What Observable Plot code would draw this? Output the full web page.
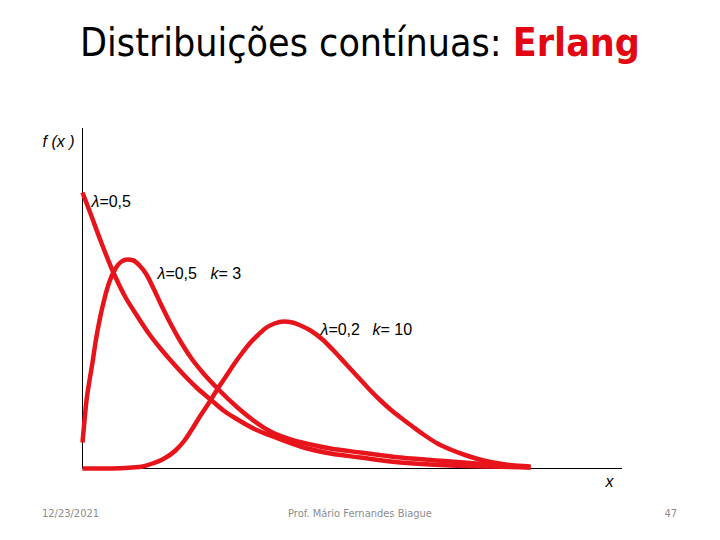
<!DOCTYPE html>
<html><head><meta charset="utf-8">
<script src="https://cdn.jsdelivr.net/npm/d3@7"></script>
<script src="https://cdn.jsdelivr.net/npm/@observablehq/plot@0.6"></script>
<style>
html,body{margin:0;padding:0;background:#fff;}
#page{position:relative;width:720px;height:540px;overflow:hidden;background:#fff;}
#title{position:absolute;left:0;top:20px;width:720px;text-align:center;font-family:"DejaVu Sans Condensed","DejaVu Sans",sans-serif;font-size:39px;color:#000;white-space:nowrap;}
#title b{color:#e30613;}
#chart{position:absolute;left:0;top:100px;}
.foot{position:absolute;top:507px;font-family:"Liberation Sans Narrow","DejaVu Sans Condensed",sans-serif;font-size:11px;color:#8c8c8c;white-space:nowrap;}
</style></head>
<body><div id="page">
<div id="title">Distribuições contínuas: <b>Erlang</b></div>
<div id="chart"></div>
<div class="foot" style="left:42px">12/23/2021</div>
<div class="foot" style="left:0;width:720px;text-align:center">Prof. Mário Fernandes Biague</div>
<div class="foot" style="right:43px">47</div>
</div>
<script>
// Series (arbitrary units)
const expX = [0, 0.8, 1.8, 3.0, 4.2, 5.5, 6.7, 7.8, 9.0, 10.1, 11.4, 12.8, 14.1, 15.5, 17.3, 19.3, 21.8, 24.8, 27.8, 31.8, 36.8, 40.8, 44.8];
const expY = [2.76, 2.55, 2.28, 1.98, 1.73, 1.52, 1.34, 1.20, 1.06, 0.94, 0.81, 0.69, 0.58, 0.49, 0.39, 0.31, 0.22, 0.15, 0.11, 0.06, 0.03, 0.02, 0.01];

const k3X = [0, 0.2, 0.4, 0.7, 1.0, 1.3, 1.7, 2.2, 2.7, 3.3, 3.9, 4.5, 5.1, 5.7, 6.4, 7.1, 7.9, 8.8, 9.8, 10.9, 12.1, 13.5, 15.5, 17.1, 18.8, 20.8, 22.8, 24.8, 27.8, 31.8, 36.8, 40.8, 44.8];
const k3Y = [0.26, 0.48, 0.68, 0.88, 1.06, 1.26, 1.48, 1.70, 1.87, 2.00, 2.07, 2.09, 2.08, 2.03, 1.94, 1.80, 1.63, 1.45, 1.27, 1.10, 0.95, 0.80, 0.61, 0.48, 0.37, 0.29, 0.24, 0.20, 0.16, 0.11, 0.07, 0.04, 0.01];

const k10X = [0, 2.8, 5.0, 6.0, 7.0, 8.0, 9.3, 10.2, 11.0, 11.8, 12.6, 13.6, 14.4, 15.2, 16.0, 16.8, 17.6, 18.4, 19.2, 20.1, 21.0, 21.8, 22.8, 24.0, 25.1, 26.3, 27.5, 28.6, 29.8, 30.8, 31.8, 33.0, 34.1, 35.5, 36.8, 38.4, 40.1, 42.3, 44.8];
const k10Y = [0, 0, 0.01, 0.02, 0.05, 0.09, 0.18, 0.28, 0.40, 0.53, 0.65, 0.81, 0.93, 1.05, 1.16, 1.26, 1.34, 1.41, 1.45, 1.47, 1.46, 1.43, 1.38, 1.29, 1.18, 1.05, 0.92, 0.80, 0.68, 0.59, 0.51, 0.42, 0.34, 0.25, 0.19, 0.13, 0.08, 0.04, 0.02];

const lambdaLabels = ["λ=0,5", "λ=0,5", "λ=0,2"];
const kLabels = ["k= 3", "k= 10"];
const yLabel = "f (x )";
const xLabel = "x";

const red = "#e8141b";
const toRows = (xs, ys) => xs.map((x, i) => ({x, y: ys[i]}));
const lineOpts = {x: "x", y: "y", stroke: red, strokeWidth: 4.5, curve: "monotone-x", strokeLinecap: "butt"};
const font = "'Liberation Sans', Arial, sans-serif";

const plot = Plot.plot({
  width: 720, height: 400,
  marginLeft: 82, marginRight: 98, marginTop: 28, marginBottom: 32,
  x: {domain: [0, 54], axis: null},
  y: {domain: [0, 3.4], axis: null},
  style: {fontFamily: font, background: "transparent"},
  marks: [
    Plot.ruleX([0], {stroke: "#000", strokeWidth: 1}),
    Plot.ruleY([0], {stroke: "#000", strokeWidth: 1}),
    Plot.line(toRows(k10X, k10Y), lineOpts),
    Plot.line(toRows(k3X, k3Y), lineOpts),
    Plot.line(toRows(expX, expY), lineOpts),
    Plot.text(lambdaLabels, {x: [0.9, 7.5, 23.8], y: [2.67, 1.95, 1.39], text: d => d, textAnchor: "start", fontSize: 16, fill: "#000", className: "lbl"}),
    Plot.text(kLabels, {x: [12.8, 29.0], y: [1.95, 1.39], text: d => d, textAnchor: "start", fontSize: 16, fill: "#000", className: "lbl"}),
    Plot.text([yLabel], {x: -2.4, y: 3.27, text: d => d, textAnchor: "middle", fontSize: 16, fill: "#000", fontStyle: "italic"}),
    Plot.text([xLabel], {x: 52.7, y: -0.13, text: d => d, textAnchor: "middle", fontSize: 16, fill: "#000", fontStyle: "italic"})
  ]
});
document.getElementById("chart").appendChild(plot);
// italicize λ and k in labels
plot.querySelectorAll(".lbl text").forEach(t => {
  const s = t.textContent;
  t.innerHTML = s.replace(/(λ|k)/g, '<tspan font-style="italic">$1</tspan>');
});
</script>
</body></html>
